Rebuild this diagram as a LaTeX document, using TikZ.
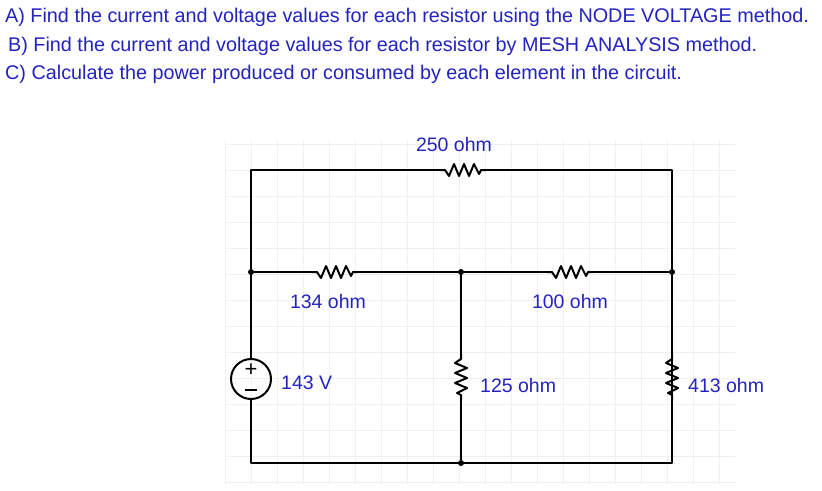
\documentclass[tikz,border=0pt]{standalone}
\usepackage{fontspec}
\setmainfont{Liberation Sans}
\definecolor{txt}{RGB}{35,35,190}
\begin{document}
\begin{tikzpicture}[x=1pt,y=-1pt,
  wire/.style={line width=2pt,line join=round},
  lbl/.style={text=txt,font=\fontsize{19.5}{22}\selectfont,inner sep=0pt},
  hdr/.style={text=txt,font=\fontsize{19.8}{22}\selectfont,inner sep=0pt,anchor=west},
  dot/.style={circle,fill=black,inner sep=0pt,minimum size=6pt}]
\useasboundingbox (0,0) rectangle (822,490);
\fill[white] (0,0) rectangle (822,490);
\foreach \x in {225,251,277,303,329,355,381,407,433,459,485,511,537,563,589,615,641,667,693,719}
  \draw[black!6,line width=0.6pt] (\x,140) -- (\x,485);
\foreach \y in {144,170,196,222,248,274,300,326,352,378,404,430,456,482}
  \draw[black!6,line width=0.6pt] (225,\y) -- (735,\y);
\node[hdr] (h1) at (5,17) {A) Find the current and voltage values for each resistor using the NODE VOLTAGE method.};
\node[hdr] (h2) at (8,46) {B) Find the current and voltage values for each resistor by MESH ANALYSIS method.};
\node[hdr] (h3) at (5,74) {C) Calculate the power produced or consumed by each element in the circuit.};
\coordinate (TL) at (251,170); \coordinate (TR) at (672,170);
\node[dot] (ML) at (251,272) {}; \node[dot] (MM) at (461,272) {}; \node[dot] (MR) at (672,272) {};
\coordinate (BL) at (251,463); \node[dot] (BM) at (461,463) {}; \coordinate (BR) at (672,463);
\node[circle,draw,line width=2pt,minimum size=40pt,inner sep=0pt] (V) at (251,379) {};
\node[inner sep=0pt,font=\fontsize{22}{22}\selectfont] at (251,370) {+};
\draw[line width=1.6pt] (245,390) -- (257,390);
\newcommand{\hres}[2]{\draw[wire] (#1-23,#2) -- (#1-18,#2) -- (#1-14,#2+6) -- (#1-9,#2-6) -- (#1-4,#2+6) -- (#1+1,#2-6) -- (#1+6,#2+6) -- (#1+11,#2-6) -- (#1+16,#2+4) -- (#1+18,#2) -- (#1+23,#2);}
\newcommand{\vres}[2]{\draw[wire] (#1,#2-23) -- (#1,#2-18) -- (#1-6,#2-14) -- (#1+6,#2-9) -- (#1-6,#2-4) -- (#1+6,#2+1) -- (#1-6,#2+6) -- (#1+6,#2+11) -- (#1-4,#2+16) -- (#1,#2+18) -- (#1,#2+23);}
\coordinate (R1) at (463,170); \coordinate (R2) at (335,272); \coordinate (R3) at (570,272);
\coordinate (R4) at (461,377); \coordinate (R5) at (672,377);
\hres{463}{170} \hres{335}{272} \hres{570}{272} \vres{461}{377} \vres{672}{377}
\draw[wire] (R1)++(-23,0) -- (TL) -- (ML) -- (V.north);
\draw[wire] (R1)++(23,0) -- (TR) -- (MR) -- (R5)++(0,-23);
\draw[wire] (V.south) -- (BL) -- (BR) -- (R5)++(0,23);
\draw[wire] (ML) -- ++(61,0); \draw[wire] (R2)++(23,0) -- (MM) -- ++(86,0);
\draw[wire] (R3)++(23,0) -- (MR);
\draw[wire] (MM) -- ++(0,82); \draw[wire] (R4)++(0,23) -- (BM);
\node[lbl] (l1) at (454,145) {250 ohm};
\node[lbl] (l2) at (328,302) {134 ohm};
\node[lbl] (l3) at (570,302) {100 ohm};
\node[lbl,anchor=west] (l4) at (281,383) {143 V};
\node[lbl,anchor=west] (l5) at (480,386) {125 ohm};
\node[lbl,anchor=west] (l6) at (688,386) {413 ohm};
\end{tikzpicture}
\end{document}
